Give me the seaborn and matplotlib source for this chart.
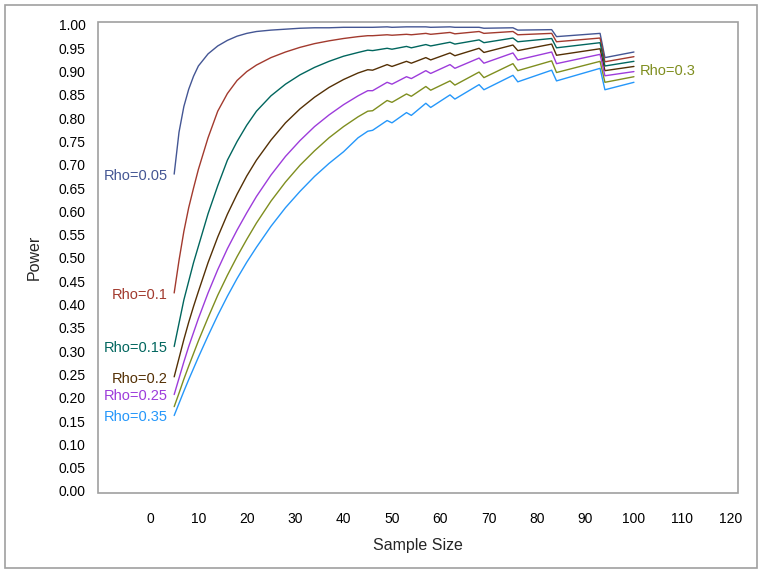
import numpy as np
import pandas as pd
import matplotlib
matplotlib.use("Agg")
import matplotlib.pyplot as plt
from matplotlib.patches import Rectangle
import seaborn as sns

# values
sample_size = [5, 6, 7, 8, 9, 10, 12, 14, 16, 18, 20, 22, 25, 28, 31, 34, 37, 40, 43, 45, 46,
               49, 50, 53, 54, 57, 58, 62, 63, 68, 69, 75, 76, 83, 84, 93, 94, 100]

power_005 = [0.680, 0.770, 0.825, 0.862, 0.890, 0.912, 0.938, 0.955, 0.967, 0.976, 0.982, 0.986,
             0.989, 0.991, 0.993, 0.994, 0.994, 0.995, 0.995, 0.995, 0.995, 0.996, 0.995, 0.996,
             0.996, 0.996, 0.995, 0.996, 0.995, 0.995, 0.993, 0.994, 0.989, 0.990, 0.975, 0.982,
             0.930, 0.942]
power_010 = [0.425, 0.495, 0.557, 0.608, 0.650, 0.690, 0.758, 0.815, 0.853, 0.881, 0.900, 0.914,
             0.930, 0.942, 0.952, 0.960, 0.966, 0.971, 0.975, 0.977, 0.977, 0.979, 0.978, 0.980,
             0.979, 0.982, 0.980, 0.984, 0.981, 0.986, 0.982, 0.986, 0.979, 0.982, 0.964, 0.972,
             0.921, 0.932]
power_015 = [0.310, 0.360, 0.410, 0.450, 0.490, 0.525, 0.595, 0.655, 0.710, 0.750, 0.785, 0.815,
             0.848, 0.873, 0.893, 0.909, 0.922, 0.933, 0.941, 0.946, 0.945, 0.950, 0.948, 0.954,
             0.951, 0.958, 0.955, 0.963, 0.959, 0.968, 0.962, 0.972, 0.964, 0.971, 0.951, 0.962,
             0.912, 0.922]
power_020 = [0.245, 0.285, 0.325, 0.362, 0.396, 0.428, 0.490, 0.545, 0.594, 0.637, 0.676, 0.710,
             0.753, 0.790, 0.820, 0.845, 0.866, 0.883, 0.897, 0.904, 0.903, 0.915, 0.911, 0.922,
             0.918, 0.930, 0.925, 0.940, 0.934, 0.950, 0.941, 0.957, 0.945, 0.959, 0.935, 0.949,
             0.902, 0.911]
power_025 = [0.207, 0.242, 0.277, 0.310, 0.340, 0.370, 0.425, 0.475, 0.520, 0.560, 0.597, 0.632,
             0.678, 0.718, 0.752, 0.782, 0.807, 0.829, 0.848, 0.859, 0.859, 0.877, 0.873, 0.889,
             0.885, 0.902, 0.896, 0.915, 0.907, 0.929, 0.918, 0.940, 0.925, 0.942, 0.917, 0.937,
             0.891, 0.900]
power_030 = [0.181, 0.210, 0.240, 0.268, 0.295, 0.322, 0.372, 0.420, 0.463, 0.503, 0.540, 0.575,
             0.622, 0.663, 0.699, 0.730, 0.758, 0.782, 0.803, 0.815, 0.816, 0.838, 0.834, 0.852,
             0.847, 0.868, 0.860, 0.880, 0.871, 0.899, 0.887, 0.917, 0.902, 0.923, 0.898, 0.922,
             0.877, 0.889]
power_035 = [0.162, 0.188, 0.214, 0.239, 0.263, 0.287, 0.333, 0.377, 0.418, 0.456, 0.491, 0.523,
             0.568, 0.608, 0.643, 0.675, 0.703, 0.728, 0.758, 0.772, 0.774, 0.795, 0.790, 0.812,
             0.806, 0.832, 0.823, 0.850, 0.841, 0.872, 0.861, 0.892, 0.878, 0.903, 0.880, 0.907,
             0.861, 0.877]

rho_labels = ["Rho=0.05", "Rho=0.1", "Rho=0.15", "Rho=0.2", "Rho=0.25", "Rho=0.3", "Rho=0.35"]
powers = [power_005, power_010, power_015, power_020, power_025, power_030, power_035]
colors = ["#445694", "#A23A2E", "#01665E", "#543005", "#9D3CDB", "#7F8E1F", "#2597FA"]

df = pd.concat([pd.DataFrame({"Sample Size": sample_size, "Power": p, "Rho": lab})
                for lab, p in zip(rho_labels, powers)], ignore_index=True)

sns.set_style("white")
plt.rcParams['font.family'] = ['Liberation Sans', 'DejaVu Sans']

grey = "#a0a0a0"
fig = plt.figure(figsize=(7.61, 5.73), dpi=100)
ax = fig.add_axes([98 / 761, 80 / 573, 640 / 761, 471 / 573])

sns.lineplot(data=df, x="Sample Size", y="Power", hue="Rho", palette=colors,
             linewidth=1.0, legend=False, estimator=None, sort=False, ax=ax)

# curve labels
for lab, p, c in zip(rho_labels, powers, colors):
    if lab == "Rho=0.3":
        ax.text(101.2, p[-1] + 0.012, lab, ha="left", va="center", color=c, fontsize=10.5)
    else:
        ax.text(3.7, p[0] - 0.004, lab, ha="right", va="center", color=c, fontsize=10.5)

ax.set_xlim(-10.74, 121.5)
ax.set_ylim(-0.0043, 1.0064)
ax.set_xticks(np.arange(0, 121, 10))
ax.set_yticks(np.arange(0, 1.0001, 0.05))
ax.set_yticklabels([f"{v:.2f}" for v in np.arange(0, 1.0001, 0.05)])

for s in ax.spines.values():
    s.set_color("none")
ax.spines["bottom"].set_position(("outward", 4))
ax.add_patch(Rectangle((0, 0), 1, 1, transform=ax.transAxes, fill=False,
                       edgecolor=grey, linewidth=1.2, clip_on=False, zorder=5))

ax.tick_params(axis="both", direction="out", length=5, width=1, color=grey,
               labelsize=10, labelcolor="black")
ax.tick_params(axis="x", pad=5)
ax.tick_params(axis="y", pad=4)
ax.set_xlabel("Sample Size", fontsize=11.5, labelpad=8)
ax.set_ylabel("Power", fontsize=11.5, labelpad=12)

fig.patches.append(Rectangle((5 / 761, 5 / 573), 752 / 761, 563 / 573, transform=fig.transFigure,
                             fill=False, edgecolor=grey, linewidth=1.2))

fig.savefig("out.png", dpi=100)
